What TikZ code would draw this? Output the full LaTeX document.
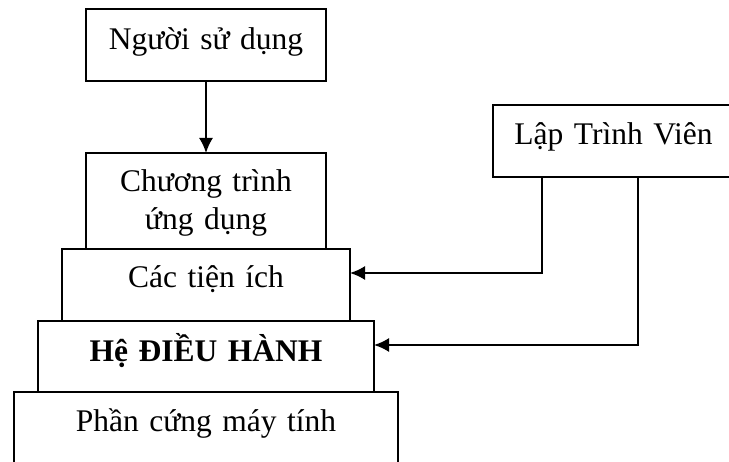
\documentclass[tikz,border=0pt]{standalone}
\usepackage{fontspec}
\setmainfont{Liberation Serif}
\usetikzlibrary{arrows.meta,positioning}
\tikzset{
	layer/.style={draw,line width=1.8pt,inner sep=0pt,outer sep=0pt,align=center,font=\fontsize{31.5}{38}\selectfont},
	link/.style={line width=1.8pt,->},
}
\begin{document}
\begin{tikzpicture}[>={Latex[length=15pt,width=14pt]},x=1pt,y=-1pt]
	\useasboundingbox (0,0) rectangle (729,462);
	% user and programs
	\node[layer,text width=240pt,text height=41pt,text depth=31pt,anchor=north] (nguoidung) at (206,9) {Người sử dụng};
	\node[layer,text width=240pt,text height=39pt,text depth=57pt,anchor=north] (ungdung) at (206,153) {Chương trình\\ứng dụng};
	% layers
	\node[layer,text width=288pt,text height=39pt,text depth=33pt,below=0pt of ungdung] (tienich) {Các tiện ích};
	\node[layer,text width=336pt,text height=41pt,text depth=30pt,below=0pt of tienich,font=\fontsize{31.5}{38}\selectfont\bfseries] (hdh) {Hệ ĐIỀU HÀNH};
	\node[layer,text width=384pt,text height=40pt,text depth=37pt,below=0pt of hdh] (phancung) {Phần cứng máy tính};
	% programmer
	\node[layer,text width=241pt,text height=40pt,text depth=32pt,anchor=north] (laptrinh) at (613.5,105) {Lập Trình Viên};
	\draw[link] (nguoidung) -- (ungdung);
	\draw[link] (laptrinh.south -| 542,0) |- (tienich.east |- 0,273);
	\draw[link] (laptrinh.south -| 638,0) |- (hdh.east |- 0,345);
\end{tikzpicture}
\end{document}
